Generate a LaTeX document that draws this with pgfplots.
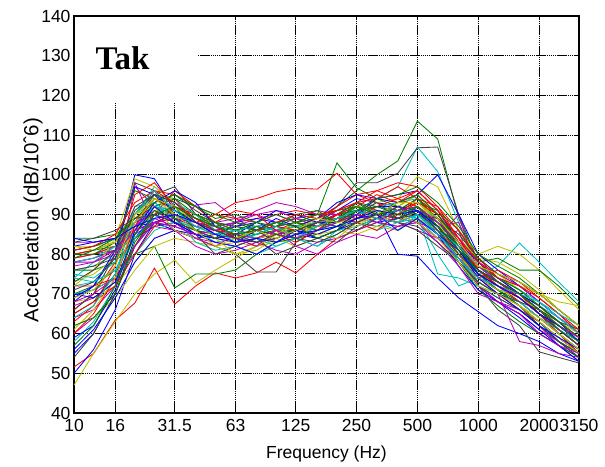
\documentclass[border=0pt]{standalone}
\usepackage{pgfplots}
\usepackage{pgfplotstable}
\pgfplotsset{compat=1.18}
\usepackage{fontspec}
\setmainfont{Liberation Sans}
\newfontfamily\timesfont{Liberation Serif}

\definecolor{mb}{rgb}{0,0,1}
\definecolor{mg}{rgb}{0,0.5,0}
\definecolor{mr}{rgb}{1,0,0}
\definecolor{mc}{rgb}{0,0.75,0.75}
\definecolor{mm}{rgb}{0.75,0,0.75}
\definecolor{my}{rgb}{0.75,0.75,0}
\definecolor{mk}{rgb}{0.25,0.25,0.25}

% one row per measurement, one column per 1/3-octave band
\pgfplotstableread{
name c0 c1 c2 c3 c4 c5 c6 c7 c8 c9 c10 c11 c12 c13 c14 c15 c16 c17 c18 c19 c20 c21 c22 c23 c24 c25
f 10 12.5 16 20 25 31.5 40 50 63 80 100 125 160 200 250 315 400 500 630 800 1000 1250 1600 2000 2500 3150
s1 68 72 80 100 99 91 88 86 85 86 87 86 88 90 92 91 89 91 88 82 76 73 70 66 62 58
s2 80 81 82 86 90 88 86 85 86 87 88 87 89 92 96 100 103.5 113.5 109 89 78 74 71 67 63 59
s3 51.6 55 63.4 67.7 76.5 67.4 72 75.3 74 75.3 78 75.3 80 84 86 88 87 89 85 79 73 70 66 63 59 55
s4 76 77 80 90 93 90 87 86 85 84 86 87 88 89 91 94 97 107 100.8 88 77 74 72 68 64 60
s5 79 80 82 85 88 90 87 88 89 90 88 89 87 88 90 89 88 90 87 88 76 72 69 65 61 57
s6 47 55 63 70 75 78.5 72.7 76 79 82 83 84 85 86 88 89 90 92 89 84 79 75 71 67 63 59
s7 78 79 81 88 95 97 90 86 84 85 86 87 88 92 98 98 100.4 106.8 107 90 78 73 70 65 60 55
s8 55 60 70 84 90 88 85 84 85 86 85 86 88 91 94 93 92 91 85 78 72 68 64 60 57 54
s9 70 72 76 80 82 71.5 75 75 76 80 83 84 85 87 88 87 89 90 86 80 74 71 68 64 60 56
s10 80 81 83 89 92 90 88 90 93 94 95.7 96.6 96.4 100.4 95 93 91 94 90 83 76 72 69 65 61 57
s11 72 73 76 86 92 89 86 83 84 85 87 88 86 88 90 92 93 94 88 80 75 77 82.8 78 73 68
s12 64 66 72 97 92 94 88 86 87 89 90 88 87 89 91 90 89 88 84 86 72 68 65 61 58 55
s13 82 82 83 86 90 92 89 86 84 83 85 86 87 89 91 93 94 99.5 97 86 80 82 80 76 71 66
s14 70 71 74 82 88 86 84 82 80 75.5 75.5 83 86 88 90 89 88 87 83 78 73 70 67 62 58 55
s15 81 82 84 87 88 86 84 85 87 88 86 85 84 86 88 90.5 80 79.5 74 69 65.5 62 60 58 55 53
s16 84 84 85 88 90 92 89 88 87 86 88 89 90 103 96.7 94 92 95 90 83 76 73 70 66 62 58
s17 66 70 78 90 96 95 92 88 86 87 88 87 89 92 95 96 98 97 92 84 76 72 68 64 60 56
s18 74 78 82 90 97 93 90 88 87 86 85 84 86 87 89 88 86 90 75 74 72 69 66 62 58 55
s19 60 64 70 82 89 87 92.4 93 89 86 87 89 91 90 88 90 92 91 86 80 72 68 66 62 57 53
s20 68 69 72 78 84 86 85 84 83 82 84 86 85 87 89 90 92 95 90 84 78 75 72 70 68 67
s21 80 80 81 84 87 88 86 85 86 87 86 85 87 89 92 90 88 92 86 78 72 66 62 55.4 54 52.6
s22 50 56 66 80 88 90 88 87 88 89 88 87 89 93 95 94 95 96 91 83 75 71 67 63 58 54
s23 76 76 78 84 88 89 87 85 84 85 86 87 88 90 91 92 91 93 91 86 78 79 76 76 72 67
s24 72 72 74 82 90 96 92 90 89 88 90 91 90 91 93 94 97 94 90 82 75 72 68 64 60 56
s25 58 63 72 86 92 90 87 85 84 86 88 87 86 88 92 91 90 89 80 72 74 71 70 66 62 58
s26 78 79 81 98 87 86 84 83 82 84 86 87 88 90 91 90 88 86 84 90 74 70 58 57 55 54
s27 62 64 69 76 82 84 83 82 83 84 85 86 87 88 89 90 88 91 88 84 79 78 75 71 66 62
s28 54 60 70 82 90 91 88 86 85 86 87 88 87 90 93 92 91 93 89 81 74 71 67 62 58 55
s29 82 83 84 86 88 87 85 84 83 84 85 86 88 89 90 94 93 95 100 90 80 76 72 68 64 60
s30 65 68 75 85 92 94 92 90 88 87 86 86 88 90 91 90 91 92 87 78 71 67 63 60 57 54
s31 79 80 82 88 94 92 89 87 85 84 86 88 90 91 92 91 90 94 92 86 79 74 70 65 60 55
s32 70 71 74 80 86 88 87 85 86 87 88 87 87 89 90 92 91 89 84 80 76 73 70 67 64 61
s33 83 83 84 86 88 89 88 87 88 90 91 89 88 89 90 91 90 88 86 82 77 73 69 65 61 58
s34 73 75 79 86 91 90 88 86 85 84 85 87 88 88 90 91 90 88 84 80 77 74 71 67 62 58
s35 76 77 79 87 93 95 91 88 87 86 85 86 88 90 93 91 89 90 87 82 76 73 70 66 61 57
s36 56 61 69 78 84 86 85 84 85 88 91 90 88 88 91 92 92 91 88 83 78 74 70 66 62 58
s37 81 82 84 90 95 94 90 87 86 85 87 88 89 91 92 91 89 92 88 82 75 71 67 63 59 55
s38 60 65 74 87 94 91 88 86 85 86 87 86 88 90 92 95 93 96 91 84 76 73 69 65 61 57
s39 78 79 82 88 92 91 89 87 86 87 86 87 88 89 90 91 90 92 86 78 72 70 68 64 60 56
s40 67 69 73 82 88 89 87 86 88 91 93 92 90 90 89 90 89 91 89 84 78 75 72 68 64 60
s41 72 76 84 99 97 93 90 88 86 84 86 85 87 89 92 91 90 93 88 80 73 70 67 63 59 55
s42 66 70 80 98 96 90 86 84 88 86 83 85 88 87 90 93 89 91 86 79 72 69 66 62 58 54
s43 69 72 81 97 95 91 88 85 83 86 89 87 84 86 91 89 92 90 85 77 71 68 65 61 57 53
s44 80 80 83 96 94 92 86 88 84 87 85 88 90 88 93 90 91 94 89 82 75 73 70 66 61 57
s45 63 67 77 95 98 92 89 86 84 82 85 83 86 90 89 92 94 92 87 80 74 76 73 69 65 60
s46 75 74 78 92 93 89 83 81 82 80 82 84 82 85 88 86 88 89 85 79 73 70 68 64 61 58
s47 68 70 74 88 90 86 82 80 81 83 81 80 83 84 86 88 87 88 83 77 70 68 65 60 57 55
s48 82 81 83 90 92 86 84 82 80 81 84 82 84 86 85 87 86 89 86 80 74 71 69 66 63 60
s49 71 73 79 91 95 89 85 80 82 84 80 82 84 83 87 89 88 86 82 78 73 70 68 66 63 61
s50 59 62 71 86 93 96 93 87 84 83 84 86 85 87 90 88 89 91 87 81 74 70 66 62 59 56
s51 79 81 84 89 93 95 92 89 90 88 87 90 91 88 91 94 95 97 93 87 80 77 74 70 66 62
s52 65 68 72 80 87 92 90 88 91 90 86 84 87 89 88 86 90 93 90 83 76 72 70 67 63 59
s53 74 73 76 84 89 93 90 86 83 85 87 84 82 86 87 89 91 90 86 82 77 74 71 68 64 60
s54 77 78 81 87 91 88 84 82 85 84 86 82 80 83 85 84 87 88 84 79 74 72 69 65 62 59
s55 61 66 74 88 94 92 88 84 80 82 85 88 85 84 88 91 90 88 84 78 72 70 67 64 60 56
s56 83 84 86 89 90 88 86 84 85 83 84 86 88 87 86 89 92 90 89 85 79 75 73 70 66 62
s57 70 69 73 85 92 88 85 83 82 80 83 86 84 86 89 90 86 89 85 81 76 73 70 67 63 58
s58 57 62 72 85 91 89 90 88 86 88 90 88 86 89 92 90 93 95 90 83 77 74 71 67 63 59
s59 81 82 85 93 96 93 89 87 84 86 88 90 89 91 93 96 94 96 91 84 78 74 72 69 65 61
s60 64 67 75 90 96 91 87 85 86 84 82 84 87 89 91 89 88 90 85 79 74 72 70 68 65 62
s61 78 78 80 86 88 87 85 86 84 82 86 84 86 88 90 88 91 92 88 83 77 73 70 66 62 59
s62 69 71 77 90 94 90 86 82 84 86 84 86 89 88 87 90 93 93 89 83 77 75 73 70 66 62
s63 73 76 81 92 95 93 88 86 84 83 85 84 83 85 88 90 89 91 86 80 75 72 69 65 61 57
s64 84 83 84 87 89 90 88 85 83 84 83 85 86 87 89 91 90 91 87 81 75 72 69 65 62 58
s65 62 64 70 83 90 92 89 87 85 86 88 87 84 86 91 92 90 92 87 81 76 73 70 66 62 58
}\raw
\pgfplotstabletranspose[colnames from=name]{\data}{\raw}

\begin{document}
\begin{tikzpicture}
\begin{axis}[
  at={(74pt,53pt)}, anchor=south west,
  scale only axis, width=505pt, height=397pt,
  xmode=log, xmin=10, xmax=3150, ymin=40, ymax=140,
  xtick={10,16,31.5,63,125,250,500,1000,2000,3150},
  xticklabels={10,16,31.5,63,125,250,500,1000,2000,3150},
  ytick={40,50,...,140},
  /pgf/number format/assume math mode=true,
  ticklabel style={font=\fontsize{17.5}{20}\selectfont},
  xticklabel style={yshift=-3pt},
  tick align=inside, major tick length=4pt, tick style={black, line width=0.6pt},
  grid=major,
  grid style={black, line width=0.8pt, dash pattern=on 1.5pt off 0.6pt},
  axis line style={black, line width=1.2pt},
  xlabel={Frequency (Hz)},
  xlabel style={font=\fontsize{17.5}{20}\selectfont, at={(axis description cs:0.5,0)}, anchor=base, yshift=-45pt},
  ylabel={Acceleration (dB/10ˆ6)},
  ylabel style={font=\fontsize{20.5}{23}\selectfont, at={(axis description cs:-0.081,0.486)}, anchor=center},
  cycle list={{mb},{mg},{mr},{mc},{mm},{my},{mk}},
  every axis plot/.append style={line width=0.85pt, mark=none},
]
\pgfplotsinvokeforeach{1,...,65}{
  \addplot table[x=f, y=s#1]{\data};
}
\fill[white] ([xshift=1pt,yshift=-1pt]rel axis cs:0,1) rectangle (rel axis cs:0.2436,0.781);
\node[anchor=base, font=\timesfont\bfseries\fontsize{33}{36}\selectfont] at (rel axis cs:0.096,0.864) {Tak};
\end{axis}
\pgfresetboundingbox
\useasboundingbox (0,0) rectangle (605pt,466pt);
\end{tikzpicture}
\end{document}
